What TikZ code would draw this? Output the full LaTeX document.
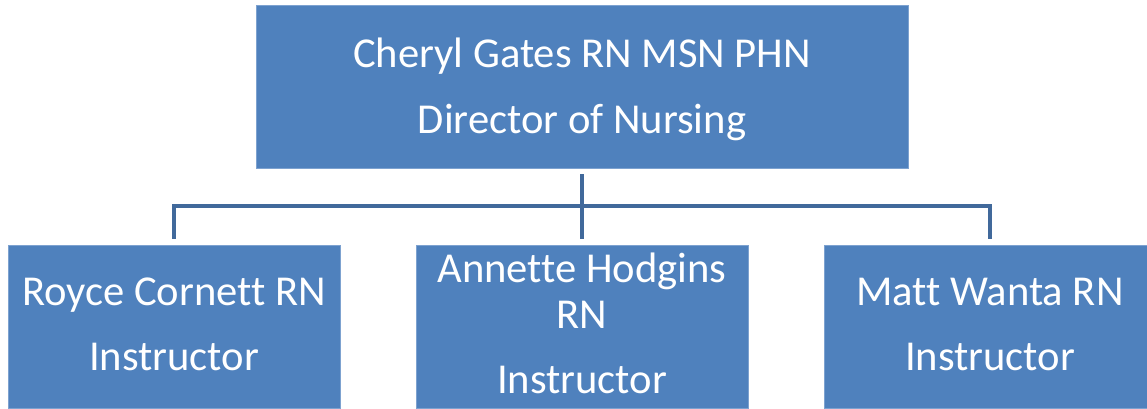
\documentclass[tikz,border=0pt]{standalone}
\usepackage{fontspec}
\setmainfont{Carlito}[Ligatures=NoCommon]
\definecolor{boxblue}{HTML}{4F81BD}
\definecolor{boxedge}{HTML}{7DA2D0}
\definecolor{linkblue}{HTML}{41699B}
\begin{document}
\begin{tikzpicture}[x=1pt,y=-1pt,
  orgbox/.style={rectangle, fill=boxblue, draw=boxedge, line width=0.8pt,
    minimum height=163pt, inner sep=0pt},
  topbox/.style={orgbox, minimum width=652pt},
  subbox/.style={orgbox, minimum width=332pt},
  boxtext/.style={anchor=base, text=white, inner sep=0pt,
    font=\fontsize{42.6}{50}\selectfont},
  link/.style={draw=linkblue, line width=4.5pt}]
\useasboundingbox (0,0) rectangle (1147,408);
\clip (0,0) rectangle (1147,408);

% boxes
\node[topbox] (director) at (582,86.5) {};
\node[subbox] (royce)   at (174,326.5) {};
\node[subbox] (annette) at (582,326.5) {};
\node[subbox] (matt)    at (990,326.5) {};

% labels
\node[boxtext] (t1) at (582,67)  {Cheryl Gates RN MSN PHN};
\node[boxtext] (t2) at (582,133) {Director of Nursing};
\node[boxtext] (l1) at (174,305) {Royce Cornett RN};
\node[boxtext] (l2) at (174,370) {Instructor};
\node[boxtext] (m1) at (582,282) {Annette Hodgins};
\node[boxtext] (m2) at (582,328) {RN};
\node[boxtext] (m3) at (582,393) {Instructor};
\node[boxtext] (r1) at (990,305) {Matt Wanta RN};
\node[boxtext] (r2) at (990,370) {Instructor};

% connectors
\coordinate (bus) at (582,206);
\draw[link] ([yshift=-6pt]director.south) -- ([yshift=6pt]annette.north);
\draw[link] ([yshift=6pt]royce.north) -- (royce.north |- bus)
  -- (matt.north |- bus) -- ([yshift=6pt]matt.north);
\end{tikzpicture}
\end{document}
